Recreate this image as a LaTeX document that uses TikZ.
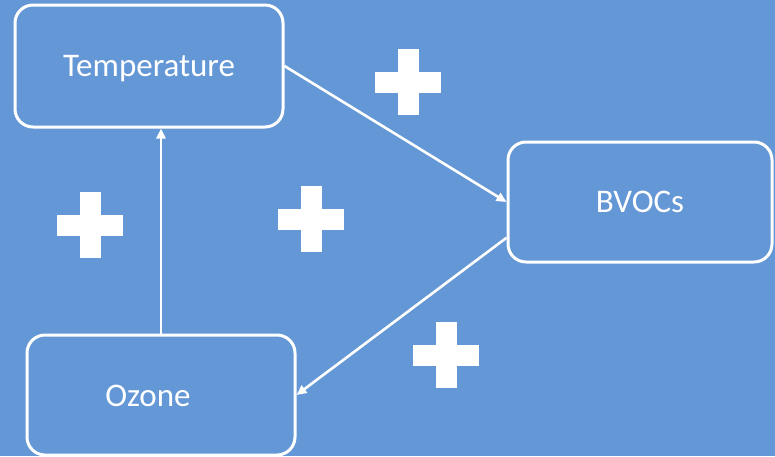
\documentclass[tikz,border=0pt]{standalone}
\usepackage{fontspec}
\setmainfont{Carlito}
\usepackage{tikz}
\usetikzlibrary{arrows.meta}
\definecolor{skyblue}{RGB}{100,151,214}
\tikzset{
  factor/.style={draw=white, line width=3pt, rounded corners=18pt, fill=skyblue,
    text=white, text depth=0pt, font=\fontsize{33}{40}\selectfont},
  link/.style={white, line width=2.6pt, -{Triangle[width=9pt,length=10pt]}}
}
\newcommand{\plussign}[2]{\fill[white] (#1-33,#2-10.5) rectangle (#1+33,#2+10.5);
  \fill[white] (#1-10.5,#2-33) rectangle (#1+10.5,#2+33);}

\begin{document}
\begin{tikzpicture}[x=1pt,y=-1pt]
% sky
\fill[skyblue] (0,0) rectangle (775,456);
\useasboundingbox (0,0) rectangle (775,456);
% boxes
\node[factor, minimum width=268pt, minimum height=122pt] (temp) at (149,66) {Temperature};
\node[factor, minimum width=264pt, minimum height=120pt] (bvocs) at (640,202) {BVOCs};
\node[factor, minimum width=268pt, minimum height=120pt,
  label={[xshift=-13pt, yshift=-1pt, text=white, font=\fontsize{33}{40}\selectfont]center:Ozone}] (ozone) at (161,395) {};
% links
\draw[link] (ozone.north) -- (ozone.north |- temp.south);
\draw[link] (temp.east) -- (bvocs.west);
\draw[link] (bvocs.195) -- (ozone.east);
% signs
\plussign{408}{82}
\plussign{90}{225}
\plussign{311}{219}
\plussign{446}{355}
\end{tikzpicture}
\end{document}
